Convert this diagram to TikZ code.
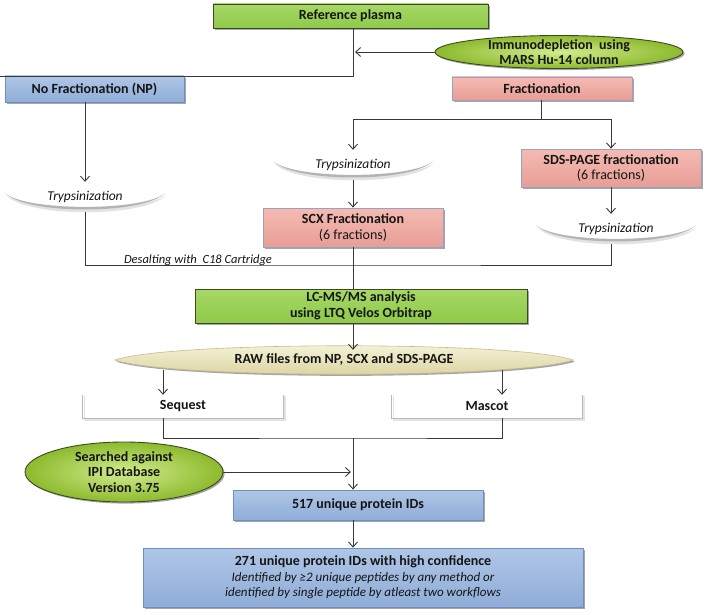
\documentclass[tikz,border=0pt]{standalone}
\usepackage{fontspec}
\setmainfont{Carlito}
\usetikzlibrary{shapes.geometric,arrows.meta,shadows,calc}
\definecolor{txt}{HTML}{151515}
\definecolor{lc}{HTML}{383838}
\definecolor{gA}{HTML}{A6D866}
\definecolor{gB}{HTML}{8FC94A}
\definecolor{gEdge}{HTML}{3C4A22}
\definecolor{geIn}{HTML}{D2EC8E}
\definecolor{geOut}{HTML}{8DBA2E}
\definecolor{pA}{HTML}{F5BBB3}
\definecolor{pB}{HTML}{E79D95}
\definecolor{pEdge}{HTML}{98A0C4}
\definecolor{bA}{HTML}{AFC6E6}
\definecolor{bB}{HTML}{8FADD8}
\definecolor{bEdge}{HTML}{6E8EC2}
\definecolor{rA}{HTML}{F8F5DC}
\definecolor{rB}{HTML}{D8D09C}
\definecolor{rEdge}{HTML}{C5BC8A}
\definecolor{bowlC}{HTML}{B4B4B4}
\definecolor{bowlS}{HTML}{E2E2E2}
\newcommand\mybowl[1]{%
  \fill[bowlS] ($(#1)+(-79,-2)$) .. controls ($(#1)+(-59,21)$) and ($(#1)+(61,21)$) .. ($(#1)+(81,-2)$) .. controls ($(#1)+(60,15)$) and ($(#1)+(-60,15)$) .. cycle;
  \fill[bowlC] ($(#1)+(-80,-4)$) .. controls ($(#1)+(-60,18)$) and ($(#1)+(60,18)$) .. ($(#1)+(80,-4)$) .. controls ($(#1)+(60,14.5)$) and ($(#1)+(-60,14.5)$) .. cycle;}
\begin{document}
\begin{tikzpicture}[x=1pt,y=-1pt,
  base/.style={font=\fontsize{14}{15.5}\selectfont\bfseries, text=txt, align=center, inner sep=0pt},
  shad/.style={drop shadow={shadow xshift=1.6pt,shadow yshift=-1.6pt,opacity=0.35,fill=black}},
  gbox/.style={base, rectangle, draw=gEdge, line width=0.8pt, top color=gA, bottom color=gB, shad},
  pbox/.style={base, rectangle, draw=pEdge, line width=0.8pt, top color=pA, bottom color=pB, shad},
  bbox/.style={base, rectangle, draw=bEdge, line width=0.8pt, top color=bA, bottom color=bB, shad},
  gell/.style={base, ellipse, draw=gEdge, line width=0.9pt, inner color=geIn, outer color=geOut, inner xsep=0pt, inner ysep=-14pt, shad},
  ttext/.style={font=\fontsize{13.5}{15.5}\selectfont\itshape, text=txt, minimum width=160pt, minimum height=30pt, inner sep=0pt},
  otext/.style={base, minimum height=23pt},
  obox/.style={draw=gray!55, line width=1pt},
  oshad/.style={draw=gray!22, line width=1.6pt},
  conn/.style={draw=lc, line width=0.9pt},
  arr/.style={conn, -{Straight Barb[length=5pt,width=9pt]}}
]
\useasboundingbox (0,0) rectangle (706,615);

% nodes
\node[gbox, minimum width=275pt, minimum height=24pt] (plasma) at (350.5,16) {Reference plasma};
\node[gell, minimum width=248pt, minimum height=33pt] (immuno) at (559,52) {Immunodepletion\ \ using\\MARS Hu-14 column};
\node[bbox, minimum width=179pt, minimum height=26pt] (np) at (94.5,89) {No Fractionation (NP)};
\node[pbox, minimum width=180pt, minimum height=23pt] (frac) at (542,88.5) {Fractionation};

\node[ttext] (trypA) at (85,197) {Trypsinization};
\node[ttext] (trypB) at (353,165) {Trypsinization};
\node[pbox, minimum width=180pt, minimum height=38pt] (sds) at (611,168) {SDS-PAGE fractionation\\{\mdseries(6 fractions)}};
\node[ttext] (trypC) at (616,229) {Trypsinization};
\node[pbox, minimum width=180pt, minimum height=39pt] (scx) at (353,227.5) {SCX Fractionation\\{\mdseries(6 fractions)}};
\node[font=\fontsize{12.5}{14}\selectfont\itshape, text=txt, inner sep=0pt, anchor=base] (desalt) at (198,263.5) {Desalting with\ \ C18 Cartridge};

\node[gbox, minimum width=332pt, minimum height=34pt] (lcms) at (361,306) {LC-MS/MS analysis\\using LTQ Velos Orbitrap};

\node[base, minimum width=458pt, minimum height=20pt] (raw) at (344,360) {};
\path[draw=rEdge, line width=0.6pt, top color=rA, bottom color=rB, shad]
  (raw.west) .. controls ($(raw.west)+(55,-19)$) and ($(raw.east)+(-55,-19)$) .. (raw.east)
  .. controls ($(raw.east)+(-55,19)$) and ($(raw.west)+(55,19)$) .. cycle;
\node[base] at (raw.center) {RAW files from NP, SCX and SDS-PAGE};

\node[otext, minimum width=200pt] (seq) at (183,406.5) {Sequest};
\node[otext, minimum width=190pt] (mas) at (487,406.5) {Mascot};

\node[gell, minimum width=198pt, minimum height=60pt] (ipi) at (124,472) {Searched against\\IPI Database\\Version 3.75};
\node[bbox, minimum width=250pt, minimum height=30pt] (b517) at (358,505) {517 unique protein IDs};
\node[bbox, minimum width=440pt, minimum height=59pt] (b271) at (363,577.5)
  {271 unique protein IDs with high confidence\\{\mdseries\itshape\fontsize{13}{15.5}\selectfont Identified by ≥2 unique peptides by any method or}\\{\mdseries\itshape\fontsize{13}{15.5}\selectfont identified by single peptide by atleast two workflows}};

% bowls under trypsinization
\mybowl{trypA.center}
\mybowl{trypB.center}
\mybowl{trypC.center}

% open boxes
\draw[oshad] ([shift={(1.5,1.5)}]seq.north west) |- ([shift={(1.5,1.5)}]seq.south east) -- ([shift={(1.5,1.5)}]seq.north east);
\draw[obox] (seq.north west) |- (seq.south east) -- (seq.north east);
\draw[oshad] ([shift={(1.5,1.5)}]mas.north west) |- ([shift={(1.5,1.5)}]mas.south east) -- ([shift={(1.5,1.5)}]mas.north east);
\draw[obox] (mas.north west) |- (mas.south east) -- (mas.north east);

% coordinates
\coordinate (lend) at (0,76);
\coordinate (fj) at (541,119);
\coordinate (dsl) at (353,265);
\coordinate (sj) at (353,438);

% connectors
\draw[conn] (plasma.south -| 353,0) -- (353,76) -- (lend);
\draw[arr, shorten >=2pt] (immuno.west) -- (immuno.west -| 353,0);
\draw[conn] (frac.south -| fj) -- (fj);
\draw[arr] (fj) -| (trypB.north);
\draw[arr] (fj) -| (sds.north);
\draw[arr] (np.south -| trypA.north) -- (trypA.north);
\draw[arr] (trypB.south) -- (scx.north);
\draw[arr] (sds.south) -- (sds.south |- trypC.north);
\draw[conn] (trypA.south) |- (dsl) -| (sds.south |- trypC.south);
\draw[conn] (scx.south) -- (scx.south |- lcms.north);
\draw[arr] (scx.south |- lcms.south) -- (scx.south |- raw.north);
\draw[arr] ([xshift=-20pt]seq.north |- raw.south) -- ([xshift=-20pt]seq.north);
\draw[arr] ([xshift=15pt]mas.north |- raw.south) -- ([xshift=15pt]mas.north);
\draw[conn] ([xshift=-20pt]seq.south) |- (sj) -| ([xshift=15pt]mas.south);
\draw[arr] (sj) -- (sj |- b517.north);
\draw[arr, shorten >=2pt] (ipi.east) -- (ipi.east -| sj);
\draw[arr] (sj |- b517.south) -- (sj |- b271.north);
\end{tikzpicture}
\end{document}
